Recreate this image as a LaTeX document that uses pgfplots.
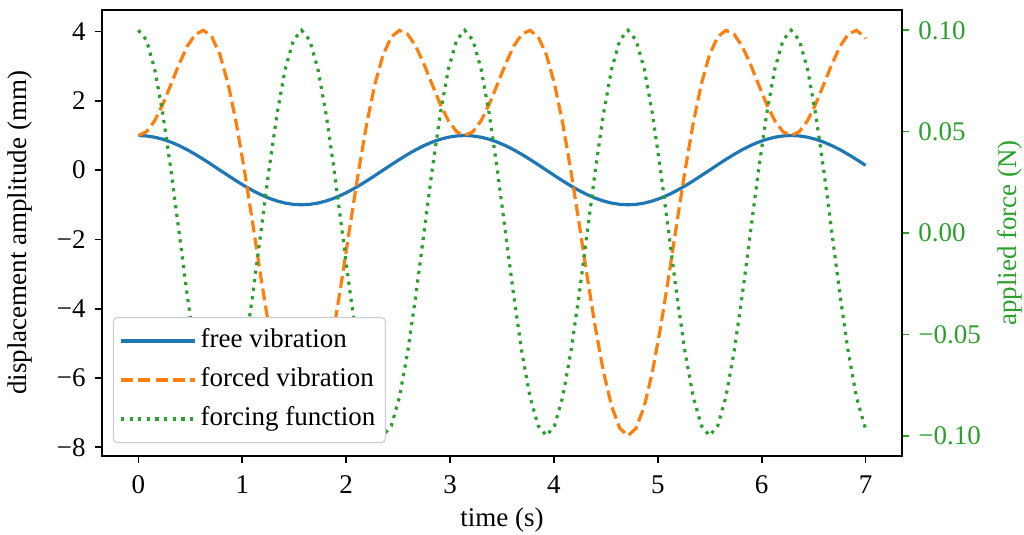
\documentclass[border=0pt]{standalone}
\usepackage{fontspec}
\setmainfont{Liberation Serif}
\usepackage{pgfplots}
\usepackage{pgfplotstable}
\pgfplotsset{compat=1.18}
\definecolor{c0}{HTML}{1F77B4}
\definecolor{c1}{HTML}{FF7F0E}
\definecolor{c2}{HTML}{2CA02C}
\pgfplotstableread{
t free forced force
0.0000 1 1.0000 0.1000
0.0785 0.9877 1.1098 0.0951
0.1571 0.9511 1.4245 0.0809
0.2356 0.8910 1.9017 0.0588
0.3142 0.8090 2.4757 0.0309
0.3927 0.7071 3.0641 0.0000
0.4712 0.5878 3.5771 -0.0309
0.5498 0.4540 3.9266 -0.0588
0.6283 0.3090 4.0358 -0.0809
0.7069 0.1564 3.8481 -0.0951
0.7854 0 3.3333 -0.1000
0.8639 -0.1564 2.4923 -0.0951
0.9425 -0.3090 1.3576 -0.0809
1.0210 -0.4540 -0.0080 -0.0588
1.0996 -0.5878 -1.5170 -0.0309
1.1781 -0.7071 -3.0641 0.0000
1.2566 -0.8090 -4.5358 0.0309
1.3352 -0.8910 -5.8203 0.0588
1.4137 -0.9511 -6.8180 0.0809
1.4923 -0.9877 -7.4502 0.0951
1.5708 -1 -7.6667 0.1000
1.6493 -0.9877 -7.4502 0.0951
1.7279 -0.9511 -6.8180 0.0809
1.8064 -0.8910 -5.8203 0.0588
1.8850 -0.8090 -4.5358 0.0309
1.9635 -0.7071 -3.0641 0.0000
2.0420 -0.5878 -1.5170 -0.0309
2.1206 -0.4540 -0.0080 -0.0588
2.1991 -0.3090 1.3576 -0.0809
2.2777 -0.1564 2.4923 -0.0951
2.3562 0 3.3333 -0.1000
2.4347 0.1564 3.8481 -0.0951
2.5133 0.3090 4.0358 -0.0809
2.5918 0.4540 3.9266 -0.0588
2.6704 0.5878 3.5771 -0.0309
2.7489 0.7071 3.0641 0.0000
2.8274 0.8090 2.4757 0.0309
2.9060 0.8910 1.9017 0.0588
2.9845 0.9511 1.4245 0.0809
3.0631 0.9877 1.1098 0.0951
3.1416 1 1.0000 0.1000
3.2201 0.9877 1.1098 0.0951
3.2987 0.9511 1.4245 0.0809
3.3772 0.8910 1.9017 0.0588
3.4558 0.8090 2.4757 0.0309
3.5343 0.7071 3.0641 0.0000
3.6128 0.5878 3.5771 -0.0309
3.6914 0.4540 3.9266 -0.0588
3.7699 0.3090 4.0358 -0.0809
3.8485 0.1564 3.8481 -0.0951
3.9270 0 3.3333 -0.1000
4.0055 -0.1564 2.4923 -0.0951
4.0841 -0.3090 1.3576 -0.0809
4.1626 -0.4540 -0.0080 -0.0588
4.2412 -0.5878 -1.5170 -0.0309
4.3197 -0.7071 -3.0641 0.0000
4.3982 -0.8090 -4.5358 0.0309
4.4768 -0.8910 -5.8203 0.0588
4.5553 -0.9511 -6.8180 0.0809
4.6339 -0.9877 -7.4502 0.0951
4.7124 -1 -7.6667 0.1000
4.7909 -0.9877 -7.4502 0.0951
4.8695 -0.9511 -6.8180 0.0809
4.9480 -0.8910 -5.8203 0.0588
5.0265 -0.8090 -4.5358 0.0309
5.1051 -0.7071 -3.0641 0.0000
5.1836 -0.5878 -1.5170 -0.0309
5.2622 -0.4540 -0.0080 -0.0588
5.3407 -0.3090 1.3576 -0.0809
5.4192 -0.1564 2.4923 -0.0951
5.4978 0 3.3333 -0.1000
5.5763 0.1564 3.8481 -0.0951
5.6549 0.3090 4.0358 -0.0809
5.7334 0.4540 3.9266 -0.0588
5.8119 0.5878 3.5771 -0.0309
5.8905 0.7071 3.0641 0.0000
5.9690 0.8090 2.4757 0.0309
6.0476 0.8910 1.9017 0.0588
6.1261 0.9511 1.4245 0.0809
6.2046 0.9877 1.1098 0.0951
6.2832 1 1.0000 0.1000
6.3617 0.9877 1.1098 0.0951
6.4403 0.9511 1.4245 0.0809
6.5188 0.8910 1.9017 0.0588
6.5973 0.8090 2.4757 0.0309
6.6759 0.7071 3.0641 0.0000
6.7544 0.5878 3.5771 -0.0309
6.8330 0.4540 3.9266 -0.0588
6.9115 0.3090 4.0358 -0.0809
6.9900 0.1564 3.8481 -0.0951
7.0000 0.1367 3.8012 -0.0963
}\data
\begin{document}
\fontsize{13.5}{16.2}\selectfont
\begin{tikzpicture}
\begin{axis}[
  scale only axis, width=400pt, height=223pt,
  xmin=-0.35, xmax=7.35, ymin=-8.2519, ymax=4.6227,
  xtick={0,1,2,3,4,5,6,7}, xticklabels={0,1,2,3,4,5,6,7},
  ytick={-8,-6,-4,-2,0,2,4}, yticklabels={−8,−6,−4,−2,0,2,4},
  tick align=outside, xtick pos=lower, ytick pos=left,
  major tick length=3.5pt,
  every tick/.style={black, line width=0.85pt},
  axis line style={line width=0.85pt},
  xticklabel style={yshift=-1.5pt},
  xlabel={time (s)}, ylabel={displacement amplitude (mm)},
  xlabel style={at={(axis description cs:0.5,-0.095)}, anchor=north},
  ylabel style={at={(axis description cs:-0.1025,0.5)}, anchor=center},
]
\addplot[c0, line width=1.6pt] table[x=t,y=free]{\data};
\addplot[c1, line width=1.6pt, dash pattern=on 6pt off 2.6pt] table[x=t,y=forced]{\data};
\end{axis}
\begin{axis}[
  scale only axis, width=400pt, height=223pt,
  xmin=-0.35, xmax=7.35, ymin=-0.11, ymax=0.11,
  axis x line=none, axis y line*=right,
  ytick={-0.1,-0.05,0,0.05,0.1}, yticklabels={−0.10,−0.05,0.00,0.05,0.10},
  tick align=outside, major tick length=3.5pt,
  every tick/.style={c2, line width=0.85pt},
  axis line style={line width=0.85pt, black},
  yticklabel style={text=c2},
  ylabel={applied force (N)},
  ylabel style={text=c2, at={(axis description cs:1.135,0.5)}, anchor=center},
  legend cell align=left,
  legend image code/.code={\path (0pt,0pt) -- (37pt,0pt); \draw[#1] (0pt,0pt) -- (29pt,0pt);},
  legend style={at={(axis description cs:0.01375,0.029)}, anchor=south west,
    draw=black!20, rounded corners=2pt, fill=white,
    line width=0.5pt, row sep=0pt,
    nodes={inner ysep=3pt, text height=0.75em, text depth=0.25em}},
]
\addlegendimage{c0, line width=1.6pt}
\addlegendentry{free vibration}
\addlegendimage{c1, line width=1.6pt, dash pattern=on 6pt off 2.6pt}
\addlegendentry{forced vibration}
\addplot[c2, line width=1.6pt, dash pattern=on 1.6pt off 2.7pt] table[x=t,y=force]{\data};
\addlegendentry{forcing function}
\end{axis}
\pgfresetboundingbox
\path[use as bounding box] (-51pt,-39.5pt) rectangle (461pt,228pt);
\end{tikzpicture}
\end{document}
